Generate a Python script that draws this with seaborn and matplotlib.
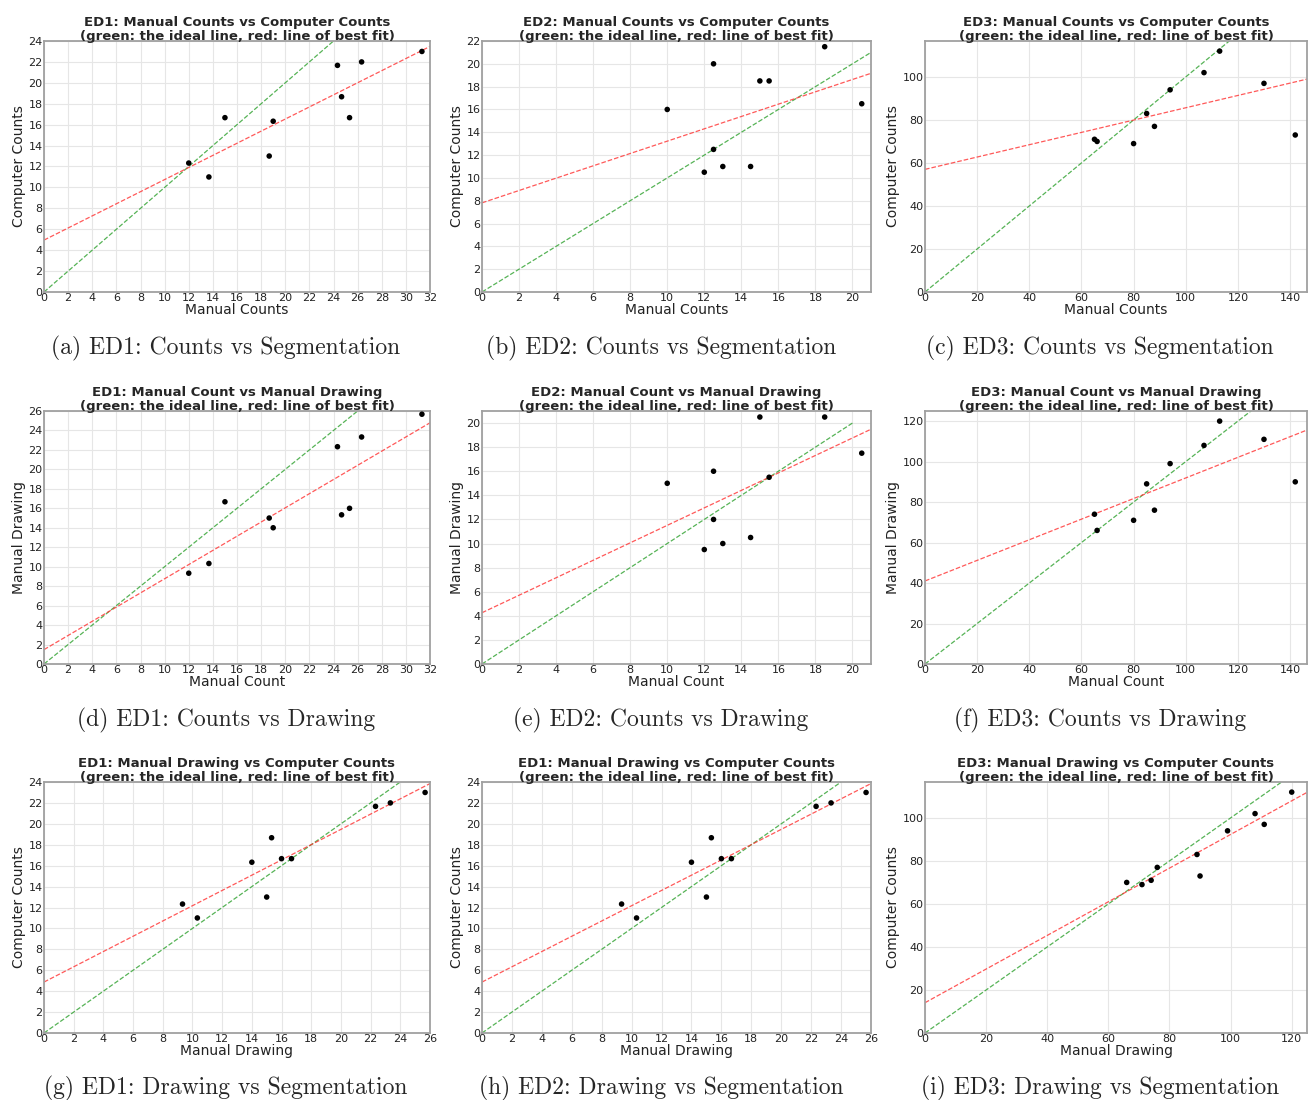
import numpy as np
import matplotlib
matplotlib.use("Agg")
import matplotlib.pyplot as plt
from matplotlib.ticker import MultipleLocator
import seaborn as sns

# ---------------- data ----------------
ed1_manual = [12, 13.67, 15, 18.67, 19, 24.33, 24.67, 25.33, 26.33, 31.33]
ed1_computer = [12.33, 11, 16.67, 13, 16.33, 21.67, 18.67, 16.67, 22, 23]
ed1_drawing = [9.33, 10.33, 16.67, 15, 14, 22.33, 15.33, 16, 23.33, 25.67]

ed2_manual = [10, 12, 12.5, 12.5, 13, 14.5, 15, 15.5, 18.5, 20.5]
ed2_computer = [16, 10.5, 20, 12.5, 11, 11, 18.5, 18.5, 21.5, 16.5]
ed2_drawing = [15, 9.5, 16, 12, 10, 10.5, 20.5, 15.5, 20.5, 17.5]

ed3_manual = [65, 66, 80, 85, 88, 94, 107, 113, 130, 142]
ed3_computer = [71, 70, 69, 83, 77, 94, 102, 112, 97, 73]
ed3_drawing = [74, 66, 71, 89, 76, 99, 108, 120, 111, 90]

titles = [
    "ED1: Manual Counts vs Computer Counts",
    "ED2: Manual Counts vs Computer Counts",
    "ED3: Manual Counts vs Computer Counts",
    "ED1: Manual Count vs Manual Drawing",
    "ED2: Manual Count vs Manual Drawing",
    "ED3: Manual Count vs Manual Drawing",
    "ED1: Manual Drawing vs Computer Counts",
    "ED1: Manual Drawing vs Computer Counts",
    "ED3: Manual Drawing vs Computer Counts",
]
subtitle = "(green: the ideal line, red: line of best fit)"
xlabels = ["Manual Counts"] * 3 + ["Manual Count"] * 3 + ["Manual Drawing"] * 3
ylabels = ["Computer Counts"] * 3 + ["Manual Drawing"] * 3 + ["Computer Counts"] * 3
captions = [
    "(a) ED1: Counts vs Segmentation",
    "(b) ED2: Counts vs Segmentation",
    "(c) ED3: Counts vs Segmentation",
    "(d) ED1: Counts vs Drawing",
    "(e) ED2: Counts vs Drawing",
    "(f) ED3: Counts vs Drawing",
    "(g) ED1: Drawing vs Segmentation",
    "(h) ED2: Drawing vs Segmentation",
    "(i) ED3: Drawing vs Segmentation",
]
pairs = [
    (ed1_manual, ed1_computer), (ed2_manual, ed2_computer), (ed3_manual, ed3_computer),
    (ed1_manual, ed1_drawing), (ed2_manual, ed2_drawing), (ed3_manual, ed3_drawing),
    (ed1_drawing, ed1_computer), (ed1_drawing, ed1_computer), (ed3_drawing, ed3_computer),
]
xlims = [32, 21, 146.5, 32, 21, 146.5, 26, 26, 125]
ylims = [24, 22, 116.7, 26, 21, 125, 24, 24, 116.7]
xsteps = [2, 2, 20, 2, 2, 20, 2, 2, 20]
ysteps = [2, 2, 20, 2, 2, 20, 2, 2, 20]

# ---------------- layout ----------------
W, H = 1309, 1100
sns.set_style("whitegrid")
plt.rcParams["font.family"] = ["DejaVu Sans"]
fig = plt.figure(figsize=(W / 100, H / 100), dpi=100)

col_lr = [(44, 430), (482, 871), (925, 1307)]
row_tb = [(41, 292), (411, 664), (782, 1033)]
cap_y = [348, 720, 1088]
cap_x = [226, 661, 1100]


def pos(l, r, t, b):
    return [l / W, 1 - b / H, (r - l) / W, (b - t) / H]


for i in range(9):
    r, c = divmod(i, 3)
    l, rr = col_lr[c]
    t, b = row_tb[r]
    ax = fig.add_axes(pos(l, rr, t, b))
    x, y = np.array(pairs[i][0]), np.array(pairs[i][1])
    ax.set_xlim(0, xlims[i])
    ax.set_ylim(0, ylims[i])
    ax.xaxis.set_major_locator(MultipleLocator(xsteps[i]))
    ax.yaxis.set_major_locator(MultipleLocator(ysteps[i]))

    # ideal line
    m = int(max(x.max(), y.max()))
    ideal = np.arange(0, m + 1)
    ax.plot(ideal, ideal, ls="--", color="#2ca02c", lw=0.9, alpha=0.8, zorder=2)
    # best fit line (seaborn regression, extended to axis limits)
    sns.regplot(x=x, y=y, ax=ax, ci=None, truncate=False, scatter=False,
                line_kws=dict(color="#ff3030", ls="--", lw=0.9, alpha=0.8, zorder=2))
    sns.scatterplot(x=x, y=y, ax=ax, color="black", s=16, edgecolor="none", zorder=3)
    ax.set_xlim(0, xlims[i])
    ax.set_ylim(0, ylims[i])

    ax.set_title(titles[i] + "\n" + subtitle, fontsize=9.5, fontweight="bold",
                 pad=1, linespacing=1.05)
    ax.set_xlabel(xlabels[i], fontsize=10, labelpad=0, color="#222222")
    ax.set_ylabel(ylabels[i], fontsize=10, labelpad=2, color="#222222")
    ax.tick_params(axis="both", labelsize=8, pad=1, length=0, colors="#222222")
    ax.grid(True, color="#e6e6e6", lw=0.8)
    for s in ax.spines.values():
        s.set_visible(True)
        s.set_color("#a0a0a0")
        s.set_linewidth(1.3)

    fig.text(cap_x[c] / W, 1 - cap_y[r] / H, captions[i], ha="center", va="center",
             fontsize=17, family="cmr10")

fig.savefig("out.png", dpi=100, facecolor="white")
